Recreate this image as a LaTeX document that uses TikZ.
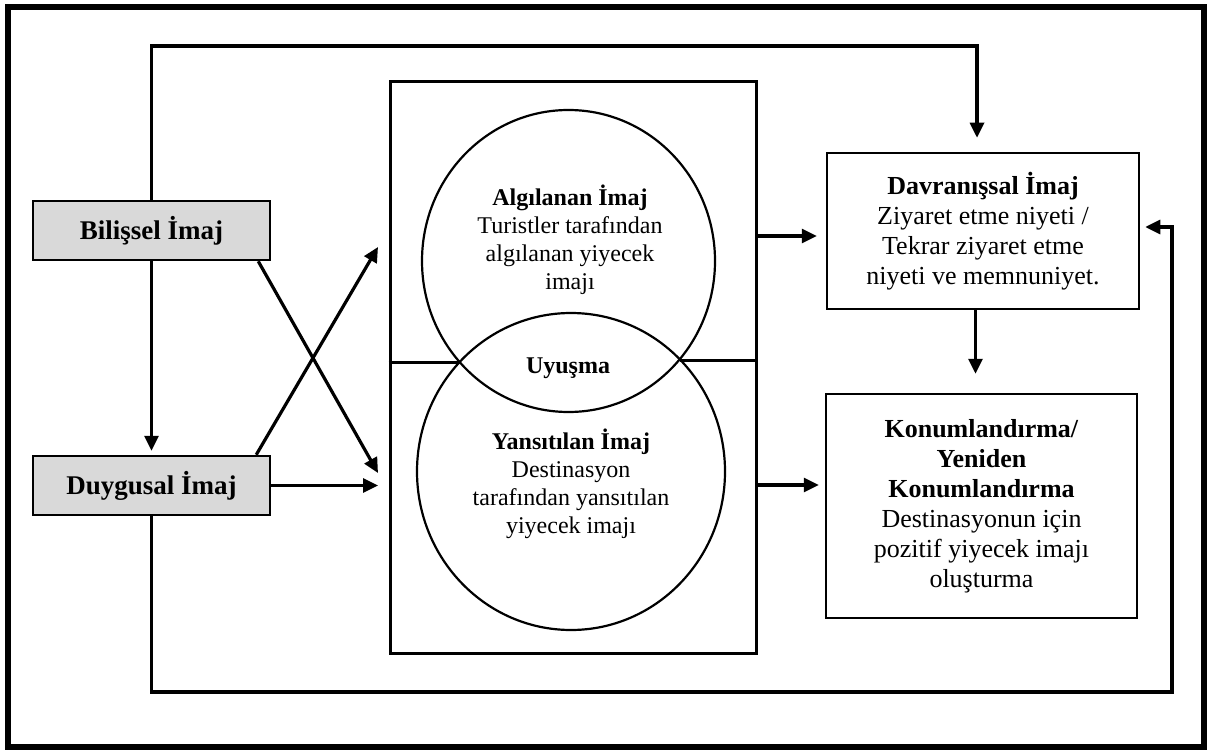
\documentclass[tikz,border=0pt]{standalone}
\usepackage{fontspec}
\setmainfont{Liberation Serif}
\usetikzlibrary{arrows.meta,shapes.geometric}
\definecolor{boxgray}{HTML}{D9D9D9}
\begin{document}
\begin{tikzpicture}[x=1pt,y=-1pt,
  conn/.style={line width=3.2pt,-{Triangle[length=15pt,width=14pt]}},
  plain/.style={line width=3pt},
  graybox/.style={draw,line width=2.5pt,fill=boxgray,minimum width=237pt,minimum height=59pt,inner sep=0pt,
    font=\fontsize{27}{31}\selectfont\bfseries},
  wbox/.style={draw,line width=2.5pt,fill=white,align=center,inner sep=0pt,
    font=\fontsize{26}{30}\selectfont},
  ctext/.style={align=center,inner sep=0pt,font=\fontsize{24}{28}\selectfont},
  ring/.style={draw,ellipse,line width=2.2pt,inner sep=0pt}
]
\useasboundingbox (0,0) rectangle (1209,751);

% outer frame and central panel
\node[draw,line width=6pt,minimum width=1196.5pt,minimum height=740pt,inner sep=0pt] (frame) at (605.75,377) {};
\node[draw,line width=3pt,minimum width=366pt,minimum height=571pt,inner sep=0pt] (panel) at (573,367.5) {};

% overlapping circles
\node[ring,minimum width=293pt,minimum height=302pt] (algc) at (568.5,261) {};
\node[ring,minimum width=308pt,minimum height=317pt] (yanc) at (571,471.5) {};

\node[ctext] (algt) at (570,240) {\textbf{Algılanan İmaj}\\Turistler tarafından\\algılanan yiyecek\\imajı};
\node[ctext] (yant) at (571,484) {\textbf{Yansıtılan İmaj}\\Destinasyon\\tarafından yansıtılan\\yiyecek imajı};
\node[ctext,font=\fontsize{24}{28}\selectfont\bfseries,anchor=base] (uyu) at (568,373) {Uyuşma};

% lines from the panel sides to the circle crossings
\coordinate (xl) at (459,362);
\coordinate (xr) at (680,360);
\draw[plain] (panel.west |- xl) -- (xl);
\draw[plain] (xr) -- (panel.east |- xr);

% left boxes
\node[graybox] (bil) at (151.5,230.5) {Bilişsel İmaj};
\node[graybox] (duy) at (151.5,485.5) {Duygusal İmaj};

% right boxes
\node[wbox,minimum width=312pt,minimum height=156pt] (dav) at (983,231)
  {\textbf{Davranışsal İmaj}\\Ziyaret etme niyeti /\\Tekrar ziyaret etme\\niyeti ve memnuniyet.};
\node[wbox,minimum width=311pt,minimum height=224pt] (kon) at (981.5,506)
  {\textbf{Konumlandırma/}\\\textbf{Yeniden}\\\textbf{Konumlandırma}\\Destinasyonun için\\pozitif yiyecek imajı\\oluşturma};

% arrow end points
\coordinate (inA) at (378,247);
\coordinate (inB) at (378,473);
\coordinate (inC) at (378,484);
\coordinate (loopT) at (0,46);
\coordinate (loopB) at (1172,692);
\coordinate (tin) at ([xshift=-6pt,yshift=14pt]dav.north);
\coordinate (rin) at ([xshift=5pt,yshift=4pt]dav.east);
\coordinate (din) at ([xshift=-9pt,yshift=-5pt]dav.west);
\coordinate (kin) at ([xshift=-6pt,yshift=21pt]kon.west);
\coordinate (kto) at ([xshift=-6pt,yshift=19pt]kon.north);

% connectors
\draw[conn] (bil.north) |- (tin |- loopT) -- (tin);
\draw[conn] (bil.south) -- ([yshift=4pt]duy.north);
\draw[conn] ([xshift=-13pt]bil.south east) -- (inB);
\draw[conn] ([xshift=-15pt]duy.north east) -- (inA);
\draw[conn] (duy.east) -- (inC |- duy.east);
\draw[conn] (panel.east |- din) -- (din);
\draw[conn] (panel.east |- kin) -- (kin);
\draw[conn] (dav.south -| kto) -- (kto);
\draw[conn] (duy.south) |- (loopB) |- (rin);
\end{tikzpicture}
\end{document}
